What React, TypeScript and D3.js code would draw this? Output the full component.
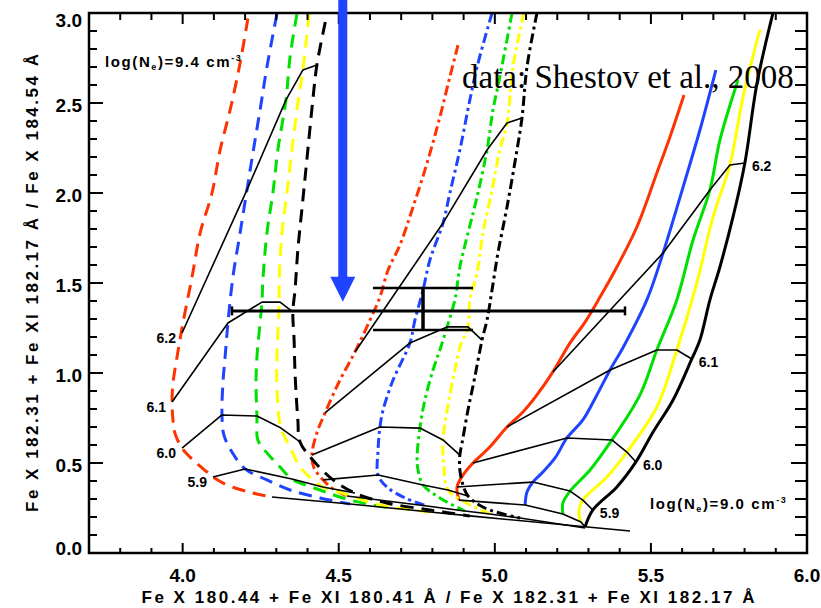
import React from 'react';
import * as d3 from 'd3';

type Pt = [number, number];

// Axis ticks
const xTickValues = [4.0, 4.5, 5.0, 5.5, 6.0];
const yTickValues = [0.0, 0.5, 1.0, 1.5, 2.0, 2.5, 3.0];
const tempLabels = ['6.2', '6.1', '6.0', '5.9'];

// red, blue, green, yellow, black
const lineColors = ['#ff3300', '#1f44ff', '#00e000', '#ffff00', '#000000'];

// ---- log(Ne)=9.4 (dashed) ----
const dashedRed: Pt[] = [[4.209, 2.97], [4.184, 2.722], [4.152, 2.461], [4.12, 2.239], [4.094, 2.0], [4.056, 1.778], [4.03, 1.533], [4.001, 1.278], [3.982, 1.089], [3.969, 0.944], [3.966, 0.839], [3.969, 0.739], [3.975, 0.667], [3.998, 0.583], [4.033, 0.517], [4.078, 0.45], [4.097, 0.422], [4.142, 0.378], [4.225, 0.333], [4.286, 0.311]];
const dashedBlue: Pt[] = [[4.302, 2.995], [4.27, 2.7], [4.248, 2.461], [4.225, 2.222], [4.206, 2.017], [4.184, 1.778], [4.161, 1.533], [4.145, 1.278], [4.136, 1.089], [4.129, 0.944], [4.126, 0.767], [4.132, 0.656], [4.158, 0.561], [4.2, 0.467], [4.27, 0.406], [4.344, 0.35], [4.44, 0.306], [4.536, 0.272]];
const dashedGreen: Pt[] = [[4.366, 2.995], [4.344, 2.756], [4.331, 2.517], [4.305, 2.239], [4.289, 2.0], [4.27, 1.778], [4.257, 1.517], [4.254, 1.394], [4.238, 1.089], [4.235, 0.944], [4.238, 0.761], [4.241, 0.628], [4.27, 0.556], [4.312, 0.478], [4.35, 0.411], [4.44, 0.35], [4.536, 0.294], [4.664, 0.25]];
const dashedYellow: Pt[] = [[4.405, 2.995], [4.385, 2.683], [4.366, 2.461], [4.35, 2.239], [4.334, 2.0], [4.318, 1.778], [4.309, 1.5], [4.309, 1.394], [4.302, 1.089], [4.302, 0.906], [4.315, 0.694], [4.344, 0.589], [4.376, 0.478], [4.417, 0.406], [4.449, 0.367], [4.52, 0.328], [4.632, 0.267], [4.792, 0.228]];
const dashedBlack: Pt[] = [[4.457, 2.95], [4.43, 2.711], [4.417, 2.517], [4.401, 2.239], [4.385, 1.961], [4.369, 1.683], [4.36, 1.461], [4.353, 1.339], [4.357, 1.183], [4.36, 1.0], [4.369, 0.739], [4.376, 0.617], [4.417, 0.517], [4.482, 0.406], [4.552, 0.333], [4.654, 0.278], [4.792, 0.239], [4.92, 0.206]];

const dashedIso62: Pt[] = [[3.998, 1.222], [4.206, 2.017], [4.331, 2.517], [4.385, 2.683], [4.43, 2.711]];
const dashedIso61: Pt[] = [[3.966, 0.839], [4.145, 1.278], [4.254, 1.394], [4.312, 1.394], [4.353, 1.339]];
const dashedIso60: Pt[] = [[3.998, 0.583], [4.126, 0.767], [4.238, 0.761], [4.315, 0.694], [4.376, 0.617]];
const dashedIso59: Pt[] = [[4.097, 0.422], [4.2, 0.467], [4.35, 0.411], [4.449, 0.367], [4.552, 0.333]];
const dashedIso58: Pt[] = [[4.286, 0.311], [4.536, 0.272], [4.664, 0.25], [4.792, 0.228], [4.92, 0.206], [5.433, 0.122]];

// ---- intermediate density (dash-dot) ----
const dotRed: Pt[] = [[4.882, 2.822], [4.856, 2.645], [4.824, 2.422], [4.783, 2.167], [4.738, 1.922], [4.696, 1.711], [4.658, 1.572], [4.632, 1.422], [4.6, 1.294], [4.552, 1.117], [4.504, 0.961], [4.456, 0.778], [4.43, 0.667], [4.414, 0.544], [4.421, 0.472], [4.45, 0.406], [4.482, 0.356], [4.526, 0.317]];
const dotBlue: Pt[] = [[4.991, 3.0], [4.943, 2.7], [4.92, 2.517], [4.888, 2.239], [4.856, 2.0], [4.834, 1.833], [4.792, 1.628], [4.77, 1.461], [4.744, 1.294], [4.728, 1.167], [4.674, 0.961], [4.642, 0.794], [4.632, 0.7], [4.626, 0.572], [4.626, 0.433], [4.654, 0.367], [4.712, 0.306], [4.783, 0.261]];
const dotGreen: Pt[] = [[5.055, 3.0], [5.016, 2.644], [4.994, 2.461], [4.975, 2.239], [4.943, 1.978], [4.914, 1.778], [4.888, 1.589], [4.872, 1.406], [4.847, 1.256], [4.824, 1.128], [4.802, 1.017], [4.776, 0.85], [4.76, 0.694], [4.751, 0.533], [4.754, 0.461], [4.77, 0.378], [4.824, 0.306], [4.904, 0.233]];
const dotYellow: Pt[] = [[5.093, 3.0], [5.058, 2.7], [5.039, 2.389], [5.016, 2.239], [4.991, 2.017], [4.962, 1.778], [4.943, 1.556], [4.92, 1.406], [4.914, 1.256], [4.888, 1.144], [4.872, 1.017], [4.85, 0.822], [4.834, 0.628], [4.837, 0.478], [4.85, 0.35], [4.904, 0.283], [4.984, 0.217]];
const dotBlack: Pt[] = [[5.135, 3.0], [5.103, 2.7], [5.087, 2.417], [5.071, 2.239], [5.039, 1.922], [5.01, 1.667], [4.991, 1.461], [4.975, 1.294], [4.959, 1.183], [4.936, 0.978], [4.914, 0.794], [4.895, 0.611], [4.888, 0.544], [4.888, 0.461], [4.898, 0.378], [4.914, 0.317], [4.968, 0.25], [5.081, 0.194]];

const dotIso62: Pt[] = [[4.552, 1.117], [4.834, 1.833], [4.975, 2.239], [5.039, 2.389], [5.087, 2.417]];
const dotIso61: Pt[] = [[4.456, 0.778], [4.728, 1.167], [4.847, 1.256], [4.914, 1.256], [4.959, 1.183]];
const dotIso60: Pt[] = [[4.414, 0.544], [4.632, 0.7], [4.76, 0.694], [4.834, 0.628], [4.888, 0.544]];
const dotIso59: Pt[] = [[4.45, 0.406], [4.626, 0.433], [4.77, 0.378], [4.85, 0.35], [4.914, 0.317]];
const dotIso58: Pt[] = [[4.526, 0.317], [4.783, 0.261], [4.904, 0.233], [4.984, 0.217], [5.081, 0.194], [5.289, 0.139]];

// ---- log(Ne)=9.0 (solid) ----
const solidRed: Pt[] = [[5.606, 2.544], [5.561, 2.311], [5.519, 2.111], [5.455, 1.811], [5.391, 1.589], [5.337, 1.422], [5.289, 1.283], [5.241, 1.167], [5.186, 1.006], [5.135, 0.878], [5.09, 0.783], [5.039, 0.7], [4.984, 0.589], [4.93, 0.5], [4.898, 0.433], [4.879, 0.367], [4.885, 0.294]];
const solidBlue: Pt[] = [[5.708, 2.683], [5.657, 2.35], [5.603, 2.033], [5.539, 1.667], [5.487, 1.406], [5.41, 1.139], [5.369, 1.017], [5.327, 0.878], [5.282, 0.739], [5.231, 0.639], [5.193, 0.528], [5.154, 0.45], [5.122, 0.394], [5.103, 0.339], [5.097, 0.267]];
const solidGreen: Pt[] = [[5.779, 2.628], [5.721, 2.294], [5.689, 2.017], [5.635, 1.739], [5.583, 1.406], [5.519, 1.128], [5.465, 0.878], [5.375, 0.628], [5.305, 0.461], [5.241, 0.344], [5.218, 0.278], [5.218, 0.217]];
const solidYellow: Pt[] = [[5.849, 2.906], [5.795, 2.533], [5.753, 2.156], [5.699, 1.867], [5.647, 1.5], [5.583, 1.128], [5.519, 0.811], [5.423, 0.561], [5.359, 0.422], [5.282, 0.294], [5.269, 0.228], [5.276, 0.172]];
const solidBlack: Pt[] = [[5.891, 3.0], [5.84, 2.611], [5.801, 2.167], [5.763, 1.867], [5.721, 1.589], [5.689, 1.406], [5.657, 1.183], [5.631, 1.078], [5.571, 0.85], [5.507, 0.672], [5.452, 0.506], [5.391, 0.367], [5.314, 0.239], [5.289, 0.144]];

const solidIso62: Pt[] = [[5.186, 1.006], [5.539, 1.667], [5.689, 2.017], [5.753, 2.156], [5.801, 2.167]];
const solidIso61: Pt[] = [[5.039, 0.7], [5.369, 1.017], [5.519, 1.128], [5.583, 1.128], [5.631, 1.078]];
const solidIso60: Pt[] = [[4.93, 0.5], [5.231, 0.639], [5.375, 0.628], [5.423, 0.561], [5.452, 0.506]];
const solidIso59: Pt[] = [[4.879, 0.367], [5.122, 0.394], [5.241, 0.344], [5.282, 0.294], [5.314, 0.239]];
const solidIso58: Pt[] = [[4.885, 0.294], [5.097, 0.267], [5.218, 0.217], [5.276, 0.172], [5.289, 0.144]];

// Measured ratio: [low, value, high]
const measuredX = [4.158, 4.77, 5.417];
const measuredY = [1.239, 1.345, 1.472];
const arrowX = 4.513;
const arrowTipY = 1.396;

const families = [
  { dash: 'none', curves: [solidRed, solidBlue, solidGreen, solidYellow, solidBlack] },
  { dash: '10 4 3 4', curves: [dotRed, dotBlue, dotGreen, dotYellow, dotBlack] },
  { dash: '13 8', curves: [dashedRed, dashedBlue, dashedGreen, dashedYellow, dashedBlack] },
];
const isotherms = [
  dashedIso62, dashedIso61, dashedIso60, dashedIso59, dashedIso58,
  dotIso62, dotIso61, dotIso60, dotIso59, dotIso58,
  solidIso62, solidIso61, solidIso60, solidIso59, solidIso58,
];
const leftLabelled = [dashedIso62, dashedIso61, dashedIso60, dashedIso59];
const rightLabelled = [solidIso62, solidIso61, solidIso60, solidIso59];

const SANS = 'Liberation Sans, Arial, Helvetica, sans-serif';
const SERIF = 'Liberation Serif, Times New Roman, serif';

export default function App() {
  const W = 821;
  const H = 608;
  const x = d3.scaleLinear().domain([3.7, 6.0]).range([89, 807]);
  const y = d3.scaleLinear().domain([0, 3]).range([553, 13]);
  const [x0, x1] = x.range();
  const [y0, y1] = y.range();

  const smooth = d3.line<Pt>().x(d => x(d[0])).y(d => y(d[1])).curve(d3.curveCatmullRom.alpha(0.5));
  const straight = d3.line<Pt>().x(d => x(d[0])).y(d => y(d[1]));

  const xMinor = d3.range(37, 61).map(v => v / 10);
  const yMinor = d3.range(0, 31).map(v => v / 10);
  const isMajor = (v: number) => Math.abs(v * 2 - Math.round(v * 2)) < 1e-6;

  const ax = x(arrowX);
  const tipY = y(arrowTipY);
  const headH = 25;
  const headW = 12.5;

  return (
    <svg width={W} height={H} viewBox={`0 0 ${W} ${H}`}
      style={{ position: 'absolute', left: 0, top: 0, background: '#fff' }}>
      <defs>
        <clipPath id="plotArea">
          <rect x={x0} y={y1} width={x1 - x0} height={y0 - y1} />
        </clipPath>
      </defs>
      <rect x={0} y={0} width={W} height={H} fill="#fff" />

      <g clipPath="url(#plotArea)" fill="none">
        {families.map((fam, fi) =>
          fam.curves.map((c, ci) => (
            <path key={`c${fi}-${ci}`} d={smooth(c) || ''} stroke={lineColors[ci]}
              strokeWidth={3} strokeDasharray={fam.dash} />
          ))
        )}
        {isotherms.map((iso, i) => (
          <path key={`iso${i}`} d={straight(iso) || ''} stroke="#000" strokeWidth={1.6} strokeLinejoin="round" />
        ))}
      </g>

      {/* temperature labels */}
      {leftLabelled.map((iso, i) => (
        <text key={`ll${i}`} x={x(iso[0][0]) - 6} y={y(iso[0][1]) + 5} dy="0.36em" textAnchor="end"
          fontFamily={SANS} fontWeight="bold" fontSize={14}>{tempLabels[i]}</text>
      ))}
      {rightLabelled.map((iso, i) => (
        <text key={`rl${i}`} x={x(iso[iso.length - 1][0]) + 7} y={y(iso[iso.length - 1][1]) + 3} dy="0.36em"
          textAnchor="start" fontFamily={SANS} fontWeight="bold" fontSize={14}>{tempLabels[i]}</text>
      ))}

      {/* measured ratio with error bars */}
      <g stroke="#000" fill="none">
        <line x1={x(measuredX[0])} x2={x(measuredX[2])} y1={y(measuredY[1])} y2={y(measuredY[1])} strokeWidth={3} />
        <line x1={x(measuredX[0])} x2={x(measuredX[0])} y1={y(measuredY[1]) - 4.5} y2={y(measuredY[1]) + 4.5} strokeWidth={2.5} />
        <line x1={x(measuredX[2])} x2={x(measuredX[2])} y1={y(measuredY[1]) - 4.5} y2={y(measuredY[1]) + 4.5} strokeWidth={2.5} />
        <line x1={x(measuredX[1])} x2={x(measuredX[1])} y1={y(measuredY[0])} y2={y(measuredY[2])} strokeWidth={3.5} />
        <line x1={x(measuredX[1]) - 50} x2={x(measuredX[1]) + 50} y1={y(measuredY[2])} y2={y(measuredY[2])} strokeWidth={2.5} />
        <line x1={x(measuredX[1]) - 50} x2={x(measuredX[1]) + 50} y1={y(measuredY[0])} y2={y(measuredY[0])} strokeWidth={2.5} />
      </g>

      {/* frame and ticks */}
      <rect x={x0} y={y1} width={x1 - x0} height={y0 - y1} fill="none" stroke="#000" strokeWidth={2.5} />
      <g stroke="#000" strokeWidth={2}>
        {xMinor.map(v => {
          const px = x(v);
          const maj = isMajor(v);
          return (
            <g key={`xt${v}`}>
              <line x1={px} x2={px} y1={y0} y2={y0 - (maj ? 10 : 5)} />
              <line x1={px} x2={px} y1={y1} y2={y1 + (maj ? 11 : 7)} />
            </g>
          );
        })}
        {yMinor.map(v => {
          const py = y(v);
          const maj = isMajor(v);
          return (
            <g key={`yt${v}`}>
              <line x1={x0} x2={x0 + (maj ? 14 : 8)} y1={py} y2={py} />
              <line x1={x1} x2={x1 - (maj ? 16 : 12)} y1={py} y2={py} />
            </g>
          );
        })}
      </g>

      {xTickValues.map(v => (
        <text key={`xl${v}`} x={x(v)} y={582} textAnchor="middle" fontFamily={SANS} fontWeight="bold" fontSize={19}>
          {v.toFixed(1)}
        </text>
      ))}
      {yTickValues.map(v => (
        <text key={`yl${v}`} x={82} y={Math.min(548, Math.max(20, y(v) + 2))} dy="0.36em" textAnchor="end"
          fontFamily={SANS} fontWeight="bold" fontSize={19}>
          {v.toFixed(1)}
        </text>
      ))}

      <text x={(x0 + x1) / 2} y={603} textAnchor="middle" fontFamily={SANS} fontWeight="bold" fontSize={17}
        textLength={613} lengthAdjust="spacing">
        Fe X 180.44 + Fe XI 180.41 Å / Fe X 182.31 + Fe XI 182.17 Å
      </text>
      <text transform={`translate(38, ${(y0 + y1) / 2}) rotate(-90)`} textAnchor="middle" fontFamily={SANS}
        fontWeight="bold" fontSize={17} textLength={458} lengthAdjust="spacing">
        Fe X 182.31 + Fe XI 182.17 Å / Fe X 184.54 Å
      </text>

      {/* density labels */}
      <text x={105} y={67} fontFamily={SANS} fontWeight="bold" fontSize={15} letterSpacing={1.6}>
        log(N<tspan fontSize={9} dy={3}>e</tspan><tspan dy={-3}>)=9.4 cm</tspan><tspan fontSize={9} dy={-6}>-3</tspan>
      </text>
      <text x={650} y={509} fontFamily={SANS} fontWeight="bold" fontSize={15} letterSpacing={1.6}>
        log(N<tspan fontSize={9} dy={3}>e</tspan><tspan dy={-3}>)=9.0 cm</tspan><tspan fontSize={9} dy={-6}>-3</tspan>
      </text>

      {/* pointer to the measured value */}
      <g fill="#1f44ff">
        <rect x={ax - 4.5} y={0} width={9} height={tipY - headH + 1} />
        <path d={`M${ax - headW},${tipY - headH} L${ax + headW},${tipY - headH} L${ax},${tipY} Z`} />
      </g>

      <text x={462} y={88} fontFamily={SERIF} fontSize={33} fill="#000">data: Shestov et al., 2008</text>
    </svg>
  );
}
